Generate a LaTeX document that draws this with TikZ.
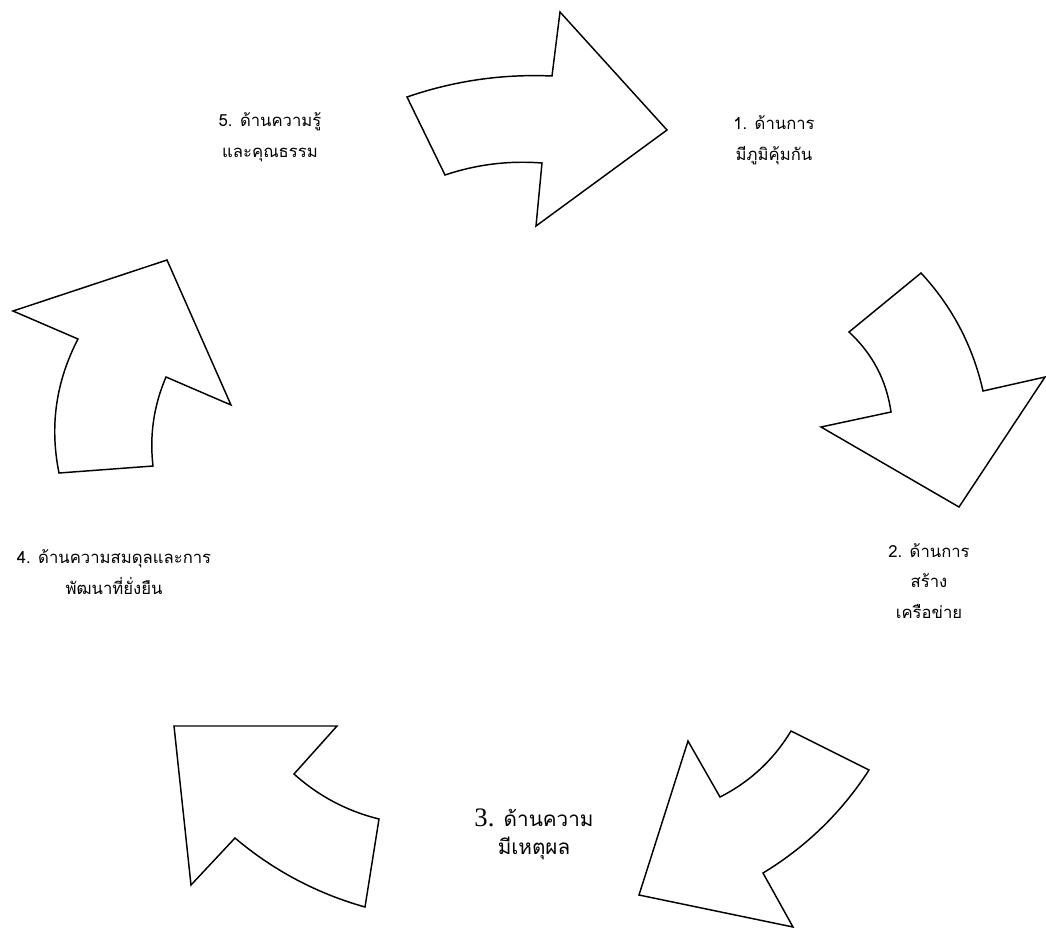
\documentclass[tikz,border=0pt]{standalone}
\usepackage{fontspec}
\newfontfamily\thaifont[Script=Thai]{Loma}
\newfontfamily\numfont{Liberation Serif}
\begin{document}
\begin{tikzpicture}[
	x=0.75pt, y=-0.75pt,
	cyclearrow/.style={draw=black, line width=1.1pt, line join=miter, fill=white},
	sidelbl/.style={align=center, font=\thaifont\fontsize{12.5}{23}\selectfont}
	]
	\useasboundingbox (0,0) rectangle (1046,929);

	% top arrow, pointing right
	\draw[cyclearrow] (407,97) .. controls (454,80.8) and (502.4,73.8) .. (552,76) -- (560,12)
	-- (667,130) -- (536,226) -- (542,163) .. controls (508.9,160.4) and (476.5,164.4) .. (445,175) -- cycle;
	% right arrow, pointing down
	\draw[cyclearrow] (921,273) .. controls (952.3,306.7) and (972.9,346.1) .. (983,391) -- (1045,377)
	-- (959,507) -- (821,427) -- (891,412) .. controls (886.5,380.3) and (872.5,353.7) .. (849,332) -- cycle;
	% lower right arrow
	\draw[cyclearrow] (791,731) -- (869,770) .. controls (841.6,812.4) and (806.2,846.8) .. (763,873)
	-- (793,927) -- (639,895) -- (688,741) -- (720,797) .. controls (750,781.8) and (773.6,759.8) .. (791,731) -- cycle;
	% lower left arrow
	\draw[cyclearrow] (174,726) -- (337,726) -- (294,774) .. controls (318.6,796.1) and (347,811.1) .. (379,819)
	-- (365,907) .. controls (316.7,893.4) and (273.3,870.4) .. (235,838) -- (191,885) -- cycle;
	% left arrow, pointing up
	\draw[cyclearrow] (59,473) -- (153,466) .. controls (149.4,435.1) and (153.8,405.5) .. (166,377)
	-- (231,405) -- (167,260) -- (13,311) -- (78,339) .. controls (55.9,381.5) and (49.5,426.1) .. (59,473) -- cycle;

	\node[sidelbl] (sideone) at (774,140) {1. ด้านการ\\มีภูมิคุ้มกัน};
	\node[sidelbl] (sidetwo) at (929,581) {2. ด้านการ\\สร้าง\\เครือข่าย};
	\node[sidelbl, font=\thaifont\fontsize{15.5}{21}\selectfont] (sidethree) at (534,834)
	{{\numfont\fontsize{20}{21}\selectfont 3.} ด้านความ\\มีเหตุผล};
	\node[sidelbl] (sidefour) at (114,572) {4. ด้านความสมดุลและการ\\พัฒนาที่ยั่งยืน};
	\node[sidelbl] (sidefive) at (270,137) {5. ด้านความรู้\\และคุณธรรม};
\end{tikzpicture}
\end{document}
